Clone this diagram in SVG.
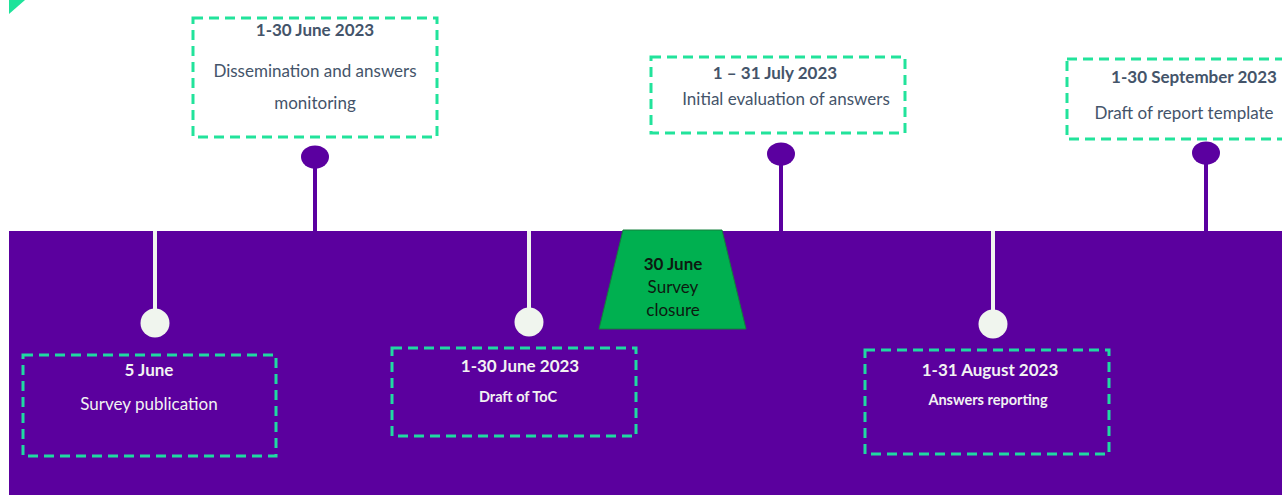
<svg xmlns="http://www.w3.org/2000/svg" width="1282" height="495" viewBox="0 0 1282 495">
  <style>
    text { font-family: Lato, "Open Sans", "Liberation Sans", sans-serif; text-anchor: middle; }
    .dark { fill: #44546A; font-size: 17px; }
    .light { fill: #F2F2F2; font-size: 17px; }
    .b { font-weight: bold; }
    .sm { font-size: 14.5px; }
    .box-top { fill: none; stroke: #22E39B; stroke-width: 3; stroke-dasharray: 10 6; }
    .box-bot { fill: none; stroke: #20D9A2; stroke-width: 3; stroke-dasharray: 10 6; }
    .stem-up { stroke: #5B00A0; stroke-width: 4; }
    .stem-dn { stroke: #F0F5EE; stroke-width: 4; }
    .pin-up { fill: #5B00A0; }
    .pin-dn { fill: #F0F5EE; }
  </style>

  <!-- background band and corner accent -->
  <rect x="9" y="231" width="1273" height="264" fill="#5B009E"/>
  <polygon points="9,0 25,0 9,14" fill="#1EE39A"/>

  <!-- connectors: stems with their pins -->
  <g id="connectors">
    <line class="stem-up" x1="315" y1="160" x2="315" y2="231"/>
    <ellipse class="pin-up" cx="315" cy="157" rx="14" ry="11.5"/>
    <line class="stem-up" x1="781" y1="157" x2="781" y2="231"/>
    <ellipse class="pin-up" cx="781" cy="154" rx="14" ry="11.5"/>
    <line class="stem-up" x1="1206" y1="156" x2="1206" y2="231"/>
    <ellipse class="pin-up" cx="1206" cy="153" rx="14" ry="11.5"/>

    <line class="stem-dn" x1="155" y1="231" x2="155" y2="320"/>
    <circle class="pin-dn" cx="155" cy="323" r="14.5"/>
    <line class="stem-dn" x1="529" y1="231" x2="529" y2="319"/>
    <circle class="pin-dn" cx="529" cy="322" r="14.5"/>
    <line class="stem-dn" x1="993" y1="231" x2="993" y2="321"/>
    <circle class="pin-dn" cx="993" cy="324" r="14.5"/>
  </g>

  <g id="node-dissemination">
    <rect class="box-top" x="193" y="18" width="244" height="119"/>
    <text class="dark b" x="315" y="36">1-30 June 2023</text>
    <text class="dark" x="315" y="77">Dissemination and answers</text>
    <text class="dark" x="315" y="109">monitoring</text>
  </g>

  <g id="node-evaluation">
    <rect class="box-top" x="651" y="57" width="254" height="76"/>
    <text class="dark b" x="775" y="79">1 – 31 July 2023</text>
    <text class="dark" x="786" y="105">Initial evaluation of answers</text>
  </g>

  <g id="node-template">
    <rect class="box-top" x="1067" y="59" width="230" height="80"/>
    <text class="dark b" x="1194" y="83">1-30 September 2023</text>
    <text class="dark" x="1184" y="119">Draft of report template</text>
  </g>

  <g id="node-publication">
    <rect class="box-bot" x="23" y="355" width="253" height="101"/>
    <text class="light b" x="149" y="376">5 June</text>
    <text class="light" x="149" y="410">Survey publication</text>
  </g>

  <g id="node-toc">
    <rect class="box-bot" x="392" y="348" width="244" height="88"/>
    <text class="light b" x="520" y="372">1-30 June 2023</text>
    <text class="light b sm" x="518" y="402">Draft of ToC</text>
  </g>

  <g id="node-closure">
    <polygon points="623,230 722,230 746,329 599,329" fill="#00B050" stroke="#14803C" stroke-width="1"/>
    <text class="b" x="673" y="270" font-size="17" fill="#0D1A10">30 June</text>
    <text x="673" y="293" font-size="17" fill="#0D1A10">Survey</text>
    <text x="673" y="316" font-size="17" fill="#0D1A10">closure</text>
  </g>

  <g id="node-reporting">
    <rect class="box-bot" x="865" y="350" width="244" height="104"/>
    <text class="light b" x="990" y="376">1-31 August 2023</text>
    <text class="light b sm" x="988" y="405">Answers reporting</text>
  </g>
</svg>
